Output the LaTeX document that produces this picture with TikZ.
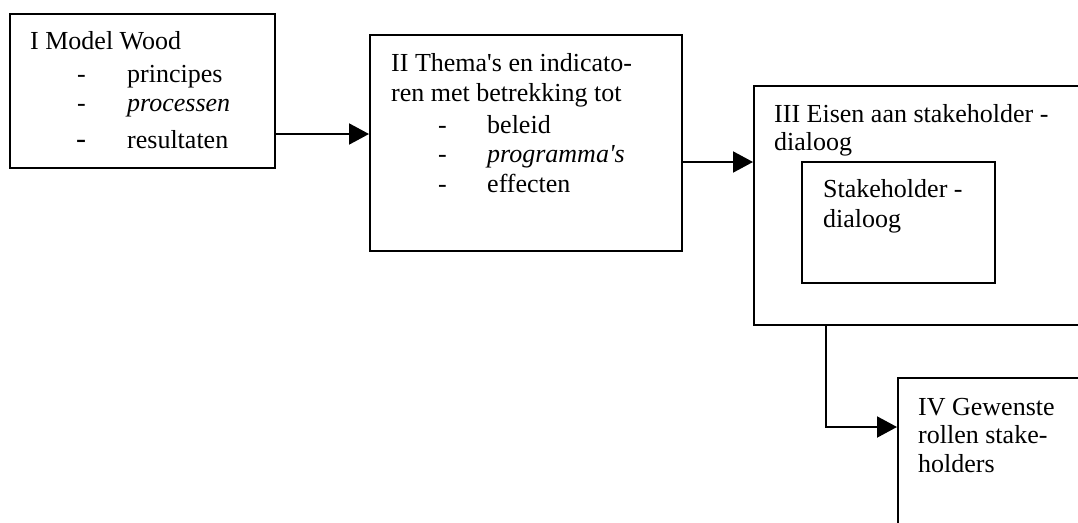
\documentclass[tikz,border=0pt]{standalone}
\usepackage{fontspec}
\setmainfont{Liberation Serif}
\usetikzlibrary{arrows.meta}
% straight apostrophe glyph, bypassing the TeX quote mapping
\newcommand\sq{\XeTeXglyph\XeTeXcharglyph"0027\relax}
\begin{document}
\begin{tikzpicture}[x=1pt,y=-1pt,
  box/.style={draw,line width=2pt,rectangle,inner sep=0pt},
  inbox/.style={draw,line width=1.6pt,rectangle,inner sep=0pt},
  txt/.style={anchor=base west,inner sep=0pt,font=\fontsize{26}{30}\selectfont},
  arr/.style={line width=2pt,-{Triangle[length=20pt,width=21pt]}}]
\useasboundingbox (0,0) rectangle (1078,522);
\clip (0,0) rectangle (1078,522);

% boxes
\node[box,minimum width=265pt,minimum height=154pt] (b1) at (142.5,91) {};
\node[box,minimum width=312pt,minimum height=216pt] (b2) at (526,143) {};
\node[box,minimum width=346pt,minimum height=239pt] (b3) at (927,205.5) {};
\node[inbox,minimum width=193pt,minimum height=121pt] (b3i) at (898.5,222.5) {};
\node[box,minimum width=202pt,minimum height=170pt] (b4) at (999,463) {};

% box I text
\node[txt] (t1a) at (30,49) {I Model Wood};
\node[txt] (t1b) at (77,82) {-};
\node[txt] (t1c) at (127,82) {principes};
\node[txt] (t1d) at (77,111) {-};
\node[txt] (t1e) at (127,111) {\itshape processen};
\node[txt,font=\fontsize{30}{30}\selectfont] (t1f) at (76,148) {-};
\node[txt] (t1g) at (127,148) {resultaten};

% box II text
\node[txt] (t2a) at (391,71) {II Thema\sq s en indicato-};
\node[txt] (t2b) at (391,101) {ren met betrekking tot};
\node[txt] (t2c) at (438,133) {-};
\node[txt] (t2d) at (487,133) {beleid};
\node[txt] (t2e) at (438,162) {-};
\node[txt] (t2f) at (487,162) {\itshape programma\sq s};
\node[txt] (t2g) at (438,192) {-};
\node[txt] (t2h) at (487,192) {effecten};

% box III text
\node[txt] (t3a) at (774,122) {III Eisen aan stakeholder -};
\node[txt] (t3b) at (774,150) {dialoog};
\node[txt] (t3c) at (823,197) {Stakeholder -};
\node[txt] (t3d) at (823,227) {dialoog};

% box IV text
\node[txt] (t4a) at (918,415) {IV Gewenste};
\node[txt] (t4b) at (918,443) {rollen stake-};
\node[txt] (t4c) at (918,472) {holders};

% connectors
\coordinate (y1) at (0,134);
\coordinate (y2) at (0,162);
\coordinate (k) at (826,427);
\draw[arr] (b1.east |- y1) -- (b2.west |- y1);
\draw[arr] (b2.east |- y2) -- (b3.west |- y2);
\draw[arr] (b3.south -| k) |- (b4.west |- k);
\end{tikzpicture}
\end{document}
